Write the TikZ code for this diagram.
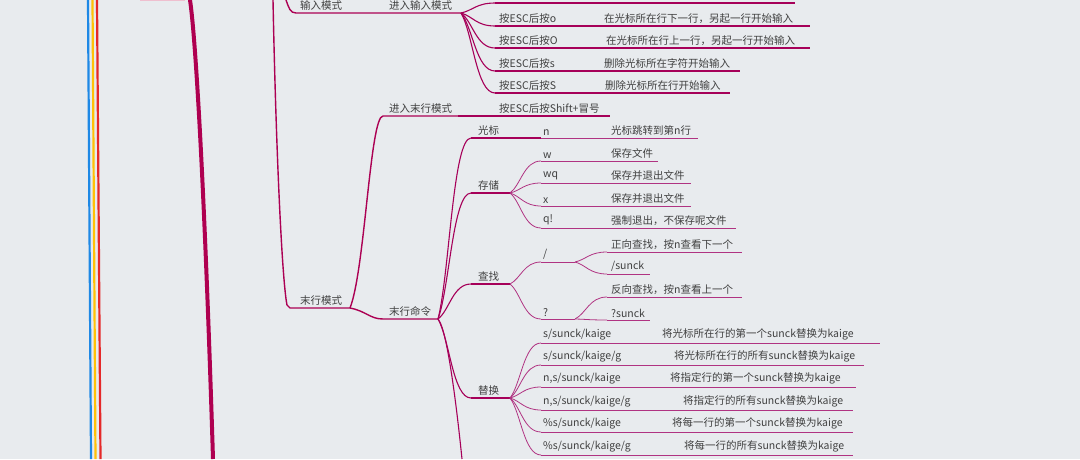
\documentclass[tikz,border=0pt]{standalone}
\usepackage{fontspec}
\setmainfont{Noto Sans CJK SC}
\newcommand\slsh{\char`\/}
\begin{document}
\begin{tikzpicture}[x=1pt,y=-1pt,
  lbl/.style={anchor=south west,inner sep=0pt,font=\fontsize{10.5}{12}\selectfont,text=black!75,yshift=2.5pt},
  br/.style={draw=purple!70!violet,line width=1.4pt},
  mid/.style={draw=purple!60!violet,line width=1.1pt},
  lf/.style={draw=purple!45!violet!80,line width=0.8pt}]
\definecolor{bg}{HTML}{E8EBEE}
\fill[bg] (0,0) rectangle (1080,459);
\useasboundingbox (0,0) rectangle (1080,459);
\newcommand\cnx[5]{\draw[#1] (#2,#3) .. controls ({#2+0.35*(#4-#2)},{#3+0.25*(#5-#3)}) and ({#2+0.45*(#4-#2)},{#5}) .. (#4,#5);}
% left colored lines
\draw[line width=2.2pt,draw={rgb,255:red,30;green,136;blue,229}] (88,0) -- (91,459);
\draw[line width=2.2pt,draw={rgb,255:red,255;green,193;blue,7}] (92.5,0) -- (95.5,459);
\draw[line width=2.2pt,draw={rgb,255:red,229;green,40;blue,40}] (97,0) -- (100.5,459);
\draw[line width=0.8pt,draw=purple!25] (140,0.5) -- (185,0.5);
\draw[line width=4pt,draw=purple!75!violet] (190,0) .. controls (196,40) and (205,200) .. (213,459);
% level 2
\draw[br] (273,0) .. controls (276,150) and (282,280) .. (287,305) -- (290,308) -- (350,308);
\draw[br] (286,0) .. controls (289,8) and (290,13) .. (296,13) -- (461,13);
\node[lbl] (a1) at (300,13) {输入模式};
\node[lbl] (a2) at (300,308) {末行模式};
\node[lbl] (b1) at (389,13) {进入输入模式};
\draw[br] (350,308) .. controls (365,270) and (370,116) .. (383,116) -- (458,116);
\draw[mid] (458,116) -- (610,116);
\node[lbl] (b2) at (389,116) {进入末行模式};
\node[lbl] (c0) at (499,116) {按ESC后按Shift+冒号};
\draw[br] (350,308) .. controls (366,311) and (370,319) .. (383,319) -- (438,319);
\node[lbl] (b3) at (389,319) {末行命令};
% input mode leaves
\cnx{mid}{461}{13}{495}{3}
\draw[mid] (495,3) -- (795,3);
\foreach \y/\k/\d/\dx/\e in {26/o/{在光标所在行下一行，另起一行开始输入}/604/810,48/O/{在光标所在行上一行，另起一行开始输入}/606/810,71/s/删除光标所在字符开始输入/604/740,93/S/删除光标所在行开始输入/605/730}{
  \cnx{mid}{461}{13}{495}{\y}
  \draw[mid] (495,\y) -- (\e,\y);
  \node[lbl] at (499,\y) {按ESC后按\k};
  \node[lbl] at (\dx,\y) {\d};
}
% 末行命令 children
\cnx{mid}{438}{319}{471}{138}
\cnx{mid}{438}{319}{471}{193}
\cnx{mid}{438}{319}{471}{284}
\cnx{mid}{438}{319}{471}{398}
\draw[mid] (438,319) .. controls (448,330) and (458,420) .. (462,459);
\draw[mid] (471,138) -- (541,138);
\draw[lf] (541,138) -- (698,138);
\node[lbl] at (478,138) {光标};
\node[lbl] at (543,138) {n};
\node[lbl] at (611,138) {光标跳转到第n行};
\draw[mid] (471,193) -- (510,193);
\node[lbl] at (478,193) {存储};
\foreach \y/\k/\d/\e in {161/w/保存文件/658,183/wq/保存并退出文件/691,206/x/保存并退出文件/691,228/q!/{强制退出，不保存呢文件}/736}{
  \cnx{lf}{510}{193}{541}{\y}
  \draw[lf] (541,\y) -- (\e,\y);
  \node[lbl] at (543,\y) {\k};
  \node[lbl] at (611,\y) {\d};
}
\draw[mid] (471,284) -- (510,284);
\node[lbl] at (478,284) {查找};
\cnx{lf}{510}{284}{541}{262}
\cnx{lf}{510}{284}{541}{319}
\draw[lf] (541,262) -- (575,262);
\draw[lf] (541,319) -- (575,319);
\node[lbl] at (543,262) {/};
\node[lbl] at (543,319) {?};
\foreach \py/\y/\d/\e in {262/252/{正向查找，按n查看下一个}/742,262/274/{\slsh sunck}/650,319/297/{反向查找，按n查看上一个}/742,319/320/?sunck/650}{
  \cnx{lf}{575}{\py}{607}{\y}
  \draw[lf] (607,\y) -- (\e,\y);
  \node[lbl] at (611,\y) {\d};
}
\draw[mid] (471,398) -- (510,398);
\node[lbl] at (478,398) {替换};
\foreach \y/\k/\d/\dx/\e in {343/{s\slsh sunck\slsh kaige}/将光标所在行的第一个sunck替换为kaige/662/880,365/{s\slsh sunck\slsh kaige\slsh g}/将光标所在行的所有sunck替换为kaige/674/864,387/{n,s\slsh sunck\slsh kaige}/将指定行的第一个sunck替换为kaige/670/856,410/{n,s\slsh sunck\slsh kaige\slsh g}/将指定行的所有sunck替换为kaige/683/853,432/{\%s\slsh sunck\slsh kaige}/将每一行的第一个sunck替换为kaige/672/853,455/{\%s\slsh sunck\slsh kaige\slsh g}/将每一行的所有sunck替换为kaige/684/853}{
  \cnx{lf}{510}{398}{541}{\y}
  \draw[lf] (541,\y) -- (\e,\y);
  \node[lbl] at (543,\y) {\k};
  \node[lbl] at (\dx,\y) {\d};
}
\end{tikzpicture}
\end{document}
